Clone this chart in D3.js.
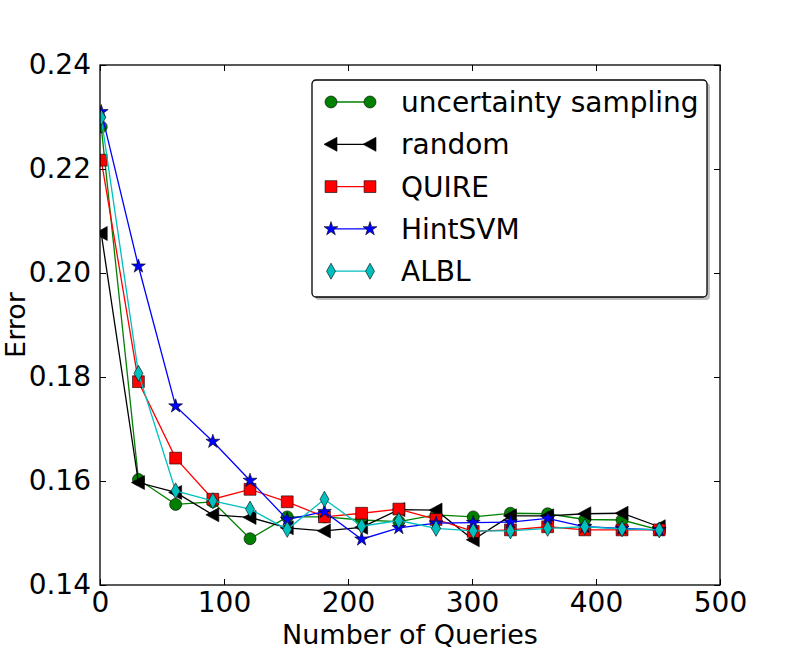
<!DOCTYPE html>
<html>
<head>
<meta charset="utf-8">
<script src="https://cdn.jsdelivr.net/npm/d3@7"></script>
<style>
  body { margin: 0; background: #fff; }
  text { font-family: "DejaVu Sans", sans-serif; }
</style>
</head>
<body>
<div id="chart"></div>
<script>
// data
const queries = [1, 31, 61, 91, 121, 151, 181, 211, 241, 271, 301, 331, 361, 391, 421, 451];

const uncertainty = [0.2281, 0.1603, 0.1555, 0.1560, 0.1489, 0.1531, 0.1531, 0.1525, 0.1522, 0.1535, 0.1531, 0.1538, 0.1537, 0.1526, 0.1525, 0.1506];
const random = [0.2076, 0.1597, 0.1578, 0.1535, 0.1530, 0.1510, 0.1504, 0.1511, 0.1545, 0.1544, 0.1487, 0.1533, 0.1533, 0.1537, 0.1538, 0.1512];
const quire = [0.2217, 0.1791, 0.1644, 0.1565, 0.1584, 0.1560, 0.1531, 0.1538, 0.1546, 0.1526, 0.1503, 0.1506, 0.1512, 0.1506, 0.1506, 0.1506];
const hintsvm = [0.2310, 0.2013, 0.1744, 0.1676, 0.1601, 0.1526, 0.1541, 0.1488, 0.1510, 0.1519, 0.1520, 0.1521, 0.1528, 0.1512, 0.1509, 0.1506];
const albl = [0.2299, 0.1807, 0.1581, 0.1562, 0.1546, 0.1507, 0.1565, 0.1513, 0.1524, 0.1509, 0.1504, 0.1504, 0.1509, 0.1512, 0.1508, 0.1506];

const seriesNames = ["uncertainty sampling", "random", "QUIRE", "HintSVM", "ALBL"];
const seriesValues = [uncertainty, random, quire, hintsvm, albl];
const seriesColors = ["#008000", "#000000", "#ff0000", "#0000ff", "#00bfbf"];
const seriesMarkers = ["circle", "triangle", "square", "star", "diamond"];

const xTicks = [0, 100, 200, 300, 400, 500];
const yTicks = [0.14, 0.16, 0.18, 0.20, 0.22, 0.24];

const width = 800, height = 650;
const margin = {top: 65, right: 80, bottom: 65, left: 100};

const svg = d3.select("#chart")
  .append("svg")
  .attr("width", width)
  .attr("height", height);

const xScale = d3.scaleLinear()
  .domain([0, 500])
  .range([margin.left, width - margin.right]);

const yScale = d3.scaleLinear()
  .domain([0.14, 0.24])
  .range([height - margin.bottom, margin.top]);

// marker shapes
function markerPath(type) {
  if (type === "circle") return d3.symbol(d3.symbolCircle, 113)();
  if (type === "square") return d3.symbol(d3.symbolSquare, 140)();
  if (type === "star") return d3.symbol(d3.symbolStar, 60)();
  if (type === "triangle") return "M-7,0L6,-7L6,7Z";
  if (type === "diamond") return "M0,-8L4.5,0L0,8L-4.5,0Z";
}

// clip so markers at the edge are cut like in the picture
svg.append("clipPath").attr("id", "clip")
  .append("rect")
  .attr("x", margin.left).attr("y", margin.top)
  .attr("width", width - margin.left - margin.right)
  .attr("height", height - margin.top - margin.bottom);

const plot = svg.append("g").attr("clip-path", "url(#clip)");

const line = d3.line()
  .x((d, i) => xScale(queries[i]))
  .y(d => yScale(d));

seriesValues.forEach((vals, s) => {
  const g = plot.append("g");
  g.append("path")
    .datum(vals)
    .attr("d", line)
    .attr("fill", "none")
    .attr("stroke", seriesColors[s])
    .attr("stroke-width", 1.3);
  g.selectAll(".m")
    .data(vals)
    .enter()
    .append("path")
    .attr("class", "m")
    .attr("transform", (d, i) => `translate(${xScale(queries[i])},${yScale(d)})`)
    .attr("d", markerPath(seriesMarkers[s]))
    .attr("fill", seriesColors[s])
    .attr("stroke", "#000")
    .attr("stroke-width", 0.6);
});

// axes (ticks inside, on all four sides)
const axisFont = "28px";
const tickLen = 6;

const axBottom = svg.append("g")
  .attr("transform", `translate(0,${height - margin.bottom})`)
  .call(d3.axisBottom(xScale).tickValues(xTicks).tickSizeInner(-tickLen).tickSizeOuter(0).tickPadding(7).tickFormat(d3.format("d")));
const axTop = svg.append("g")
  .attr("transform", `translate(0,${margin.top})`)
  .call(d3.axisTop(xScale).tickValues(xTicks).tickSizeInner(-tickLen).tickSizeOuter(0).tickFormat(""));
const axLeft = svg.append("g")
  .attr("transform", `translate(${margin.left},0)`)
  .call(d3.axisLeft(yScale).tickValues(yTicks).tickSizeInner(-tickLen).tickSizeOuter(0).tickPadding(9).tickFormat(d3.format(".2f")));
const axRight = svg.append("g")
  .attr("transform", `translate(${width - margin.right},0)`)
  .call(d3.axisRight(yScale).tickValues(yTicks).tickSizeInner(-tickLen).tickSizeOuter(0).tickFormat(""));

[axBottom, axTop, axLeft, axRight].forEach(a => {
  a.select(".domain").remove();
  a.selectAll("line").attr("stroke", "#000").attr("stroke-width", 1);
  a.selectAll("text")
    .attr("fill", "#000")
    .style("font-family", "'DejaVu Sans', sans-serif")
    .style("font-size", axisFont);
});

svg.append("rect")
  .attr("x", margin.left).attr("y", margin.top)
  .attr("width", width - margin.left - margin.right)
  .attr("height", height - margin.top - margin.bottom)
  .attr("fill", "none")
  .attr("stroke", "#000")
  .attr("stroke-width", 1.3);

// axis labels
svg.append("text")
  .attr("x", xScale(250))
  .attr("y", 644)
  .attr("text-anchor", "middle")
  .style("font-size", "27px")
  .text("Number of Queries");

svg.append("text")
  .attr("transform", `translate(25,${yScale(0.19)}) rotate(-90)`)
  .attr("text-anchor", "middle")
  .style("font-size", "27px")
  .text("Error");

// legend
const lg = svg.append("g").attr("transform", "translate(312,80)");
lg.append("rect")
  .attr("x", 3).attr("y", 3)
  .attr("width", 395).attr("height", 217)
  .attr("rx", 4)
  .attr("fill", "#7f7f7f")
  .attr("opacity", 0.5);
lg.append("rect")
  .attr("width", 395).attr("height", 217)
  .attr("rx", 4)
  .attr("fill", "#fff")
  .attr("stroke", "#000")
  .attr("stroke-width", 1.3);

seriesNames.forEach((name, s) => {
  const row = lg.append("g").attr("transform", `translate(0,${22 + s * 42.3})`);
  row.append("line")
    .attr("x1", 19).attr("x2", 58)
    .attr("stroke", seriesColors[s])
    .attr("stroke-width", 1.3);
  [19, 58].forEach(x => {
    row.append("path")
      .attr("transform", `translate(${x},0)`)
      .attr("d", markerPath(seriesMarkers[s]))
      .attr("fill", seriesColors[s])
      .attr("stroke", "#000")
      .attr("stroke-width", 0.6);
  });
  row.append("text")
    .attr("x", 89)
    .attr("y", 0)
    .attr("dy", "0.36em")
    .style("font-size", axisFont)
    .text(name);
});
</script>
</body>
</html>
